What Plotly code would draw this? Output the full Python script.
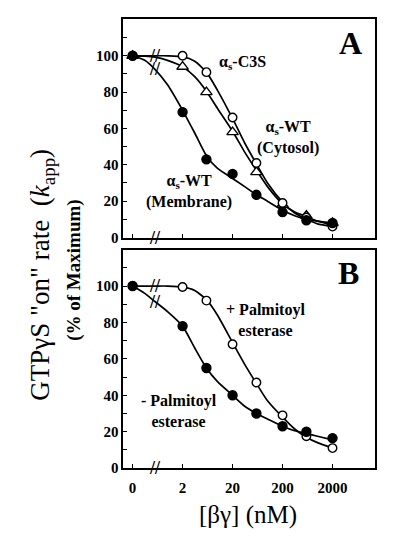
import numpy as np
import plotly.graph_objects as go

# ---------------- data ----------------
conc = [0, 2, 6, 20, 60, 200, 600, 2000]          # nM, 0 = no beta-gamma
tick_labels = ["0", "2", "20", "200", "2000"]
tick_conc = [0, 2, 20, 200, 2000]

# Panel A
a_c3s = [100, 100, 91, 66, 41, 19, 11, 6]
a_cyto = [100, 94, 80, 58, 36, 18, 12, 8]
a_memb = [100, 69, 43, 35, 23.5, 14, 9.5, 8]

# Panel B
b_plus = [100, 99.5, 92, 68, 47, 29, 17.5, 11]
b_minus = [100, 78, 55, 40, 30, 23, 20, 16.5]

# fitted curves
fit_conc = [0, 0.35, 0.56, 1, 2, 3.5, 6, 10, 20, 35, 60, 100, 200, 350, 600, 1000, 2000]
fit_c3s = [100, 100, 100, 100, 99.5, 97, 91, 81, 65.5, 52, 40.5, 30, 19.5, 13.5, 10, 7.5, 6]
fit_cyto = [100, 99.8, 99.3, 97.5, 94, 88.5, 80.5, 71, 58.5, 47, 37, 28, 18.5, 14, 11.5, 9, 7]
fit_memb = [100, 97.5, 92.5, 84, 70, 57.5, 45, 38, 32.5, 28, 23.5, 20, 15, 12, 10, 9, 8]
fit_plus = [100, 100, 100, 100, 99.5, 97.5, 92.5, 84, 69, 57, 46.5, 37, 28, 21.5, 17, 14, 11]
fit_minus = [100, 96, 91.5, 86, 78, 66, 55, 47.5, 40, 34, 30, 27, 23, 20.5, 19, 17.5, 15.5]
break_conc = 0.56          # axis break position
ZERO_POS = 0.2             # where "0" sits on the log axis

def xpos(vals):
    return [ZERO_POS if v == 0 else v for v in vals]

SERIF = "Liberation Serif"
fig = go.Figure()

def curve(xa, ya, y, name):
    fig.add_trace(go.Scatter(x=xpos(fit_conc), y=y, mode="lines", xaxis=xa, yaxis=ya,
                             line=dict(color="black", width=1.7, shape="spline", smoothing=0.6),
                             showlegend=False, hoverinfo="skip", name=name))

def points(xa, ya, y, symbol, fill, size, name):
    fig.add_trace(go.Scatter(x=xpos(conc), y=y, mode="markers", xaxis=xa, yaxis=ya,
                             marker=dict(symbol=symbol, size=size, color=fill,
                                         line=dict(color="black", width=1.4)),
                             showlegend=False, name=name))

# panel A
curve("x", "y", fit_c3s, "C3S fit")
curve("x", "y", fit_cyto, "Cytosol fit")
curve("x", "y", fit_memb, "Membrane fit")
points("x", "y", a_cyto, "triangle-up", "white", 10, "WT cytosol")
points("x", "y", a_c3s, "circle", "white", 8.5, "C3S")
points("x", "y", a_memb, "circle", "black", 9, "WT membrane")

# panel B
curve("x2", "y2", fit_plus, "+ esterase fit")
curve("x2", "y2", fit_minus, "- esterase fit")
points("x2", "y2", b_plus, "circle", "white", 8.5, "+ esterase")
points("x2", "y2", b_minus, "circle", "black", 9, "- esterase")

# break marks on curves and axes
bi = fit_conc.index(break_conc)
brk_style = dict(text="<b>//</b>", showarrow=False, xanchor="center", yanchor="middle",
                 font=dict(family=SERIF, size=18, color="black"))
for xr, yr, yv in [("x", "y", fit_c3s[bi]), ("x", "y", fit_memb[bi]), ("x", "y", 0),
                   ("x2", "y2", fit_plus[bi]), ("x2", "y2", fit_minus[bi]), ("x2", "y2", 0)]:
    fig.add_annotation(x=np.log10(break_conc), y=yv, xref=xr, yref=yr, **brk_style)

xr_log = [np.log10(ZERO_POS) - 0.188, np.log10(2000) + 0.846]
axis_common = dict(type="log", range=xr_log, showgrid=False, zeroline=False,
                   showline=True, linecolor="black", linewidth=1.6, mirror=True,
                   ticks="inside", ticklen=4, tickcolor="black", tickwidth=1.2,
                   tickvals=xpos(tick_conc), ticktext=["<b>%s</b>" % t for t in tick_labels],
                   tickfont=dict(family=SERIF, size=15, color="black"))
yaxis_common = dict(range=[0, 120], showgrid=False, zeroline=False,
                    showline=True, linecolor="black", linewidth=1.6, mirror=True,
                    ticks="inside", ticklen=4, tickcolor="black", tickwidth=1.2,
                    tickvals=[0, 20, 40, 60, 80, 100],
                    ticktext=["<b>%d</b>" % v for v in [0, 20, 40, 60, 80, 100]],
                    minor=dict(tickvals=[10, 30, 50, 70, 90, 110], ticks="inside",
                               ticklen=4, tickcolor="black", tickwidth=1.2),
                    tickfont=dict(family=SERIF, size=15, color="black"))

fig.update_layout(
    width=400, height=554, margin=dict(l=0, r=0, t=0, b=0),
    paper_bgcolor="white", plot_bgcolor="white",
    xaxis=dict(domain=[0.308, 0.937], anchor="y", showticklabels=False, **axis_common),
    yaxis=dict(domain=[0.565, 0.9644], anchor="x", **yaxis_common),
    xaxis2=dict(domain=[0.308, 0.937], anchor="y2", ticklabelstandoff=5, **axis_common),
    yaxis2=dict(domain=[0.1426, 0.5428], anchor="x2", **yaxis_common),
)

lab = dict(showarrow=False, xanchor="center", yanchor="middle",
           font=dict(family=SERIF, size=16, color="black"))
def bold_label(x, y, xr, yr, lines):
    fig.add_annotation(x=x, y=y, xref=xr, yref=yr,
                       text="<br>".join("<b>%s</b>" % s for s in lines), **lab)

bold_label(1.495, 96.5, "x", "y", ["α<sub>s</sub>-C3S"])
bold_label(2.415, 55.3, "x", "y", ["α<sub>s</sub>-WT", "(Cytosol)"])
bold_label(0.435, 25.5, "x", "y", ["α<sub>s</sub>-WT", "(Membrane)"])
bold_label(1.955, 81.2, "x2", "y2", ["+ Palmitoyl", "esterase"])
bold_label(0.235, 31.4, "x2", "y2", ["- Palmitoyl", "esterase"])

big = dict(showarrow=False, xanchor="center", yanchor="middle",
           font=dict(family=SERIF, size=32, color="black"))
fig.add_annotation(x=3.655, y=106.8, xref="x", yref="y", text="<b>A</b>", **big)
fig.add_annotation(x=3.615, y=107.2, xref="x2", yref="y2", text="<b>B</b>", **big)

fig.add_annotation(x=0.105, y=0.497, xref="paper", yref="paper", textangle=-90, showarrow=False,
                   xanchor="center", yanchor="middle",
                   text='GTPγS "on" rate  (<i>k</i><sub>app</sub>)',
                   font=dict(family=SERIF, size=27, color="black"))
fig.add_annotation(x=0.185, y=0.504, xref="paper", yref="paper", textangle=-90, showarrow=False,
                   xanchor="center", yanchor="middle",
                   text="<b>(% of Maximum)</b>",
                   font=dict(family=SERIF, size=19, color="black"))
fig.add_annotation(x=0.62, y=0.056, xref="paper", yref="paper", showarrow=False,
                   xanchor="center", yanchor="middle",
                   text="[βγ] (nM)", font=dict(family=SERIF, size=25, color="black"))

fig.write_html("out.html", config={"displayModeBar": False},
               post_script="document.body.style.margin='0';")
